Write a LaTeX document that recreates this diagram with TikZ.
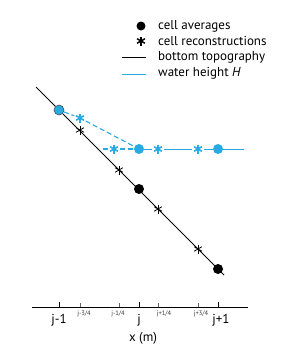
\documentclass[tikz,border=0pt]{standalone}
\usepackage{fontspec}
\setmainfont{PT Sans}
\usepackage{xcolor}
\usetikzlibrary{calc}
\definecolor{water}{HTML}{29ABE2}

\begin{document}
\begin{tikzpicture}[x=1pt, y=-1pt,
    avg/.style={circle, fill=black, inner sep=0pt, minimum size=10pt},
    wavg/.style={circle, fill=water, inner sep=0pt, minimum size=10pt},
    ast/.style 2 args={inner sep=0pt, minimum size=11pt, path picture={
        \foreach \a in {90,30,150}
            \draw[#1, line width=#2] ($(path picture bounding box.center)+(\a:4.5pt)$) -- ($(path picture bounding box.center)+(\a+180:4.5pt)$);}},
    lbl/.style={font=\fontsize{13}{15}\selectfont, inner sep=0pt},
    small/.style={font=\fontsize{6.5}{7}\selectfont, text=black!80, inner sep=0pt}]

        \useasboundingbox (0,0) rectangle (288,354);

        % bottom topography
        \coordinate (tl) at (36,87);
        \coordinate (br) at (224,275);
        \draw[line width=1pt] (tl) -- (br);

        \node[avg] (a0) at (139,189) {};
        \node[avg] (a1) at (218,269) {};

        \node[ast={black}{0.8pt}] (r1) at (80,130) {};
        \node[ast={black}{0.8pt}] (r2) at (119,170) {};
        \node[ast={black}{0.8pt}] (r3) at (158,209) {};
        \node[ast={black}{0.8pt}] (r4) at (198,249) {};

        % water height
        \node[wavg, draw=black!70, line width=0.6pt] (w0) at (59,110) {};
        \node[wavg] (w1) at (139,149) {};
        \node[wavg] (w2) at (218,149) {};
        \coordinate (wl) at (103,149);
        \coordinate (wr) at (244,149);

        \node[ast={water}{1.6pt}] (h1) at (80,118) {};
        \node[ast={water}{1.6pt}] (h2) at (114,149) {};
        \node[ast={water}{1.6pt}] (h3) at (158,149) {};
        \node[ast={water}{1.6pt}] (h4) at (198,149) {};

        \draw[water, line width=1.1pt, dash pattern=on 5pt off 3pt] (w0) -- (h1) -- (w1);
        \draw[water, line width=1.1pt, dash pattern=on 5pt off 3pt] (wl) -- (h2) -- (w1);
        \draw[water, line width=1pt] (w1) -- (h3) -- (h4) -- (w2) -- (wr);

        % axis
        \coordinate (xl) at (32,307);
        \coordinate (xr) at (248,307);
        \draw[line width=1pt] (xl) -- (xr);
        \foreach \x in {59,139,218}
            \draw[line width=1pt] (\x,307) -- (\x,302);
        \foreach \x in {80,119,158,198}
            \draw[black!60, line width=0.5pt] (\x,307) -- (\x,303);

        \node[lbl] (t0) at (59,320) {j-1};
        \node[lbl] (t2) at (139,320) {j};
        \node[lbl] (t4) at (221,320) {j+1};
        \node[small] (t1) at (84,314) {j-3/4};
        \node[small] (t1b) at (118,314) {j-1/4};
        \node[small] (t3) at (164,314) {j+1/4};
        \node[small] (t3b) at (201,314) {j+3/4};
        \node[lbl] (xlab) at (143,338) {x (m)};

        % legend
        \node[avg, minimum size=9pt] (la) at (141,26) {};
        \node[ast={black}{1.5pt}, minimum size=9pt] (lr) at (141,41) {};
        \coordinate (lb1) at (122,57);
        \coordinate (lb2) at (146,57);
        \coordinate (lw1) at (122,74);
        \coordinate (lw2) at (146,74);
        \draw[line width=1pt] (lb1) -- (lb2);
        \draw[water, line width=1pt] (lw1) -- (lw2);

        \node[lbl, anchor=west] (ta) at (158,26) {cell averages};
        \node[lbl, anchor=west] (tr) at (158,41) {cell reconstructions};
        \node[lbl, anchor=west] (tb) at (158,57) {bottom topography};
        \node[lbl, anchor=west] (tw) at (158,73) {water height \textit{H}};
    \end{tikzpicture}
\end{document}
